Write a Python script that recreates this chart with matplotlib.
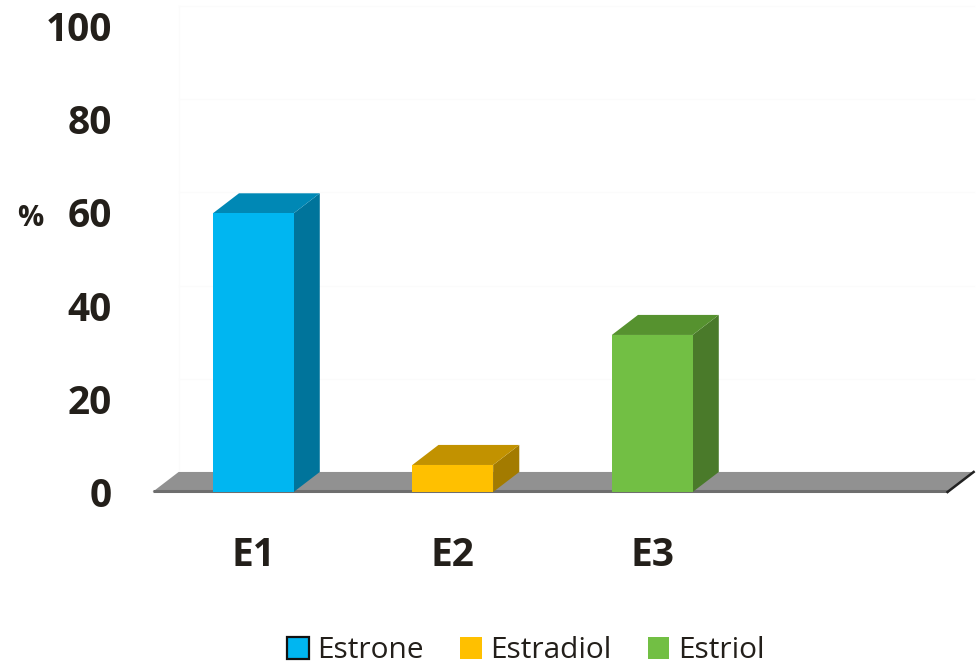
import matplotlib
matplotlib.use("Agg")
import matplotlib.pyplot as plt
from matplotlib.patches import Patch, Polygon

categories = ["E1", "E2", "E3", ""]
names = ["Estrone", "Estradiol", "Estriol"]
values = [59.8, 5.8, 33.7]
y_ticks = [0, 20, 40, 60, 80, 100]

front_colors = ["#00b6f1", "#ffc000", "#72bf44"]
top_colors = ["#0088b5", "#c29200", "#56922f"]
side_colors = ["#00749b", "#a37b00", "#4a7a2a"]
text_color = "#231f1a"

plt.rcParams["font.family"] = ["Open Sans", "DejaVu Sans"]

fig = plt.figure(figsize=(9.78, 6.65), dpi=100)
ax = fig.add_axes([153.5 / 978, (665 - 492) / 665, 798 / 978, 466 / 665])
ax.set_xlim(-0.5, 3.5)
ax.set_ylim(0, 100)

# fake 3d depth, in data units
dx = 0.131
dy = 4.3
bar_w = 0.405
floor_l = -0.505
floor_r = 3.48


def add_poly(pts, color, z):
    ax.add_patch(Polygon(pts, closed=True, facecolor=color, edgecolor="none",
                         zorder=z, clip_on=False))


# back wall, very faint
for t in y_ticks[1:]:
    ax.plot([floor_l + dx, floor_r + dx], [t + dy, t + dy], color="#fbfbfb", lw=1,
            zorder=1, clip_on=False)
ax.plot([floor_l + dx, floor_l + dx], [dy, 100 + dy], color="#fbfbfb", lw=1,
        zorder=1, clip_on=False)

# floor
add_poly([(floor_l, 0), (floor_r, 0), (floor_r + dx, dy), (floor_l + dx, dy)], "#919191", 2)
ax.plot([floor_l, floor_r], [0.3, 0.3], color="#6e6e6e", lw=2.2, zorder=3,
        clip_on=False, solid_capstyle="butt")
ax.plot([floor_r, floor_r + dx], [0, dy], color="#222222", lw=1.8, zorder=3,
        clip_on=False)

# bars
for i, v in enumerate(values):
    x0 = i - bar_w / 2
    x1 = i + bar_w / 2
    add_poly([(x1, 0), (x1 + dx, dy), (x1 + dx, v + dy), (x1, v)], side_colors[i], 4)
    add_poly([(x0, v), (x1, v), (x1 + dx, v + dy), (x0 + dx, v + dy)], top_colors[i], 4)
ax.bar(range(len(values)), values, width=bar_w, color=front_colors, zorder=5)

ax.set_xticks(range(len(categories)))
ax.set_xticklabels(categories)
ax.set_yticks(y_ticks)
ax.tick_params(axis="both", length=0, labelcolor=text_color)
ax.tick_params(axis="x", pad=32)
ax.tick_params(axis="y", pad=29.8)
for lab in ax.get_xticklabels():
    lab.set_fontsize(28)
    lab.set_fontweight("bold")
for lab in ax.get_yticklabels():
    lab.set_fontsize(28)
    lab.set_fontweight("bold")
for s in ax.spines.values():
    s.set_visible(False)

fig.text(30 / 978, 1 - 219 / 665, "%", fontsize=21, fontweight="bold",
         color=text_color, ha="center", va="center")

handles = [Patch(facecolor=front_colors[0], edgecolor="#111111", lw=1.6),
           Patch(facecolor=front_colors[1], edgecolor="none"),
           Patch(facecolor=front_colors[2], edgecolor="none")]
fig.legend(handles, names, ncol=3, loc="lower center",
           bbox_to_anchor=(526 / 978, -0.041), frameon=False, fontsize=21.5,
           labelcolor=text_color, handlelength=0.72, handleheight=0.8,
           handletextpad=0.3, columnspacing=1.2)

fig.savefig("out.png", dpi=100)
